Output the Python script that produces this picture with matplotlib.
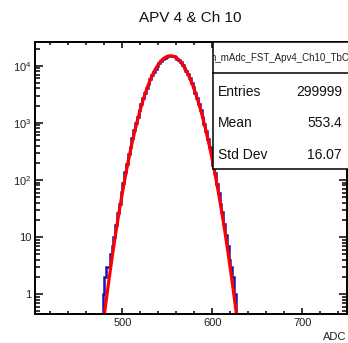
import matplotlib
matplotlib.use("Agg")
import matplotlib.pyplot as plt
import numpy as np
from matplotlib.ticker import MultipleLocator, FixedLocator, FuncFormatter, LogLocator
from matplotlib.transforms import Bbox

# ---- data ----
bin_edges = list(range(478, 630, 2))
counts = [1, 2, 3, 3, 5, 7, 10, 16, 26, 38, 62, 88, 136, 190, 280, 385, 550, 735, 990,
          1290, 1680, 2120, 2700, 3330, 4080, 4880, 5810, 6760, 7840, 8890, 10020, 11060,
          12100, 12970, 13780, 14330, 14750, 14870, 14840, 14510, 14040, 13300, 12480,
          11460, 10430, 9280, 8190, 7060, 6050, 5050, 4200, 3395, 2740, 2148, 1681, 1275,
          970, 710, 527, 371, 270, 181, 130, 84, 59, 38, 27, 17, 11, 7, 4, 3, 2, 1]
bin_edges = bin_edges[:len(counts) + 1]

fit_constant = 14896.0
fit_mean = 553.4
fit_sigma = 16.07

title = "APV 4 & Ch 10"
hist_name = "h_mAdc_FST_Apv4_Ch10_TbC"
stats_labels = ["Entries", "Mean", "Std Dev"]
stats_values = ["299999", "553.4", "16.07"]
x_label = "ADC"
y_tick_values = [1, 10, 100, 1000, 10000]
y_tick_labels = ["1", "10", r"$10^2$", r"$10^3$", r"$10^4$"]

W, H = 348, 343
fig = plt.figure(figsize=(W / 100, H / 100), dpi=100)
plt.rcParams['font.family'] = ['Liberation Sans', 'DejaVu Sans']
plt.rcParams['mathtext.fontset'] = 'custom'
plt.rcParams['mathtext.rm'] = 'Liberation Sans'
plt.rcParams['mathtext.it'] = 'Liberation Sans'

left_px, right_px, top_px, bot_px = 34.5, 346.5, 42.0, 314.0
ax = fig.add_axes([left_px / W, 1 - bot_px / H, (right_px - left_px) / W, (bot_px - top_px) / H])

ax.stairs(counts, bin_edges, baseline=0.01, fill=False, color='#1414b4', linewidth=1.8)
xs = np.linspace(470, 640, 600)
ax.plot(xs, fit_constant * np.exp(-0.5 * ((xs - fit_mean) / fit_sigma) ** 2), color='#ff0000', lw=2.3)

ax.set_yscale('log')
ax.set_xlim(402.4, 749)
ax.set_ylim(0.45, 26000)

ax.xaxis.set_major_locator(MultipleLocator(100))
ax.xaxis.set_minor_locator(MultipleLocator(20))
ax.yaxis.set_major_locator(FixedLocator(y_tick_values))
ax.yaxis.set_major_formatter(FuncFormatter(lambda v, p: y_tick_labels[y_tick_values.index(int(round(v)))] if int(round(v)) in y_tick_values else ""))
ax.yaxis.set_minor_locator(LogLocator(base=10, subs=np.arange(2, 10)))
ax.yaxis.set_minor_formatter(FuncFormatter(lambda v, p: ""))

ax.tick_params(which='both', direction='in', top=True, right=True, labelsize=8, labelcolor='#222222', width=1.1)
ax.tick_params(axis='x', which='major', length=4.5, pad=3)
ax.tick_params(axis='x', which='minor', length=2.3)
ax.tick_params(axis='y', which='major', length=6, pad=2)
ax.tick_params(axis='y', which='minor', length=3.5)
for s in ax.spines.values():
    s.set_linewidth(1.4)

fig.text(190 / W, 1 - 18 / H, title, ha='center', va='center', fontsize=11, color='#111111')
fig.text(346 / W, 1 - 337 / H, x_label, ha='right', va='center', fontsize=8, color='#222222')

# stats box
bx0, bx1, by0, by1 = 212.5, 352, 42, 169
box = plt.Rectangle((bx0 / W, 1 - by1 / H), (bx1 - bx0) / W, (by1 - by0) / H, transform=fig.transFigure,
                    facecolor='white', edgecolor='black', linewidth=1.1, zorder=10)
fig.add_artist(box)
fig.add_artist(plt.Line2D([bx0 / W, bx1 / W], [1 - 72.7 / H, 1 - 72.7 / H], transform=fig.transFigure,
                          color='black', linewidth=1.1, zorder=11))
t = fig.text(210.5 / W, 1 - 58 / H, hist_name, ha='left', va='center', fontsize=7.0, color='#222222', zorder=12)
t.set_clip_box(Bbox([[bx0 + 0.8, 0], [W, H]]))
t.set_clip_on(True)
rows_y = [92.3, 122.7, 155.0]
for lab, val, yy in zip(stats_labels, stats_values, rows_y):
    fig.text(217.5 / W, 1 - yy / H, lab, ha='left', va='center', fontsize=10, color='#111111', zorder=12)
    fig.text(342 / W, 1 - yy / H, val, ha='right', va='center', fontsize=10, color='#111111', zorder=12)

fig.savefig("out.png", dpi=100)
